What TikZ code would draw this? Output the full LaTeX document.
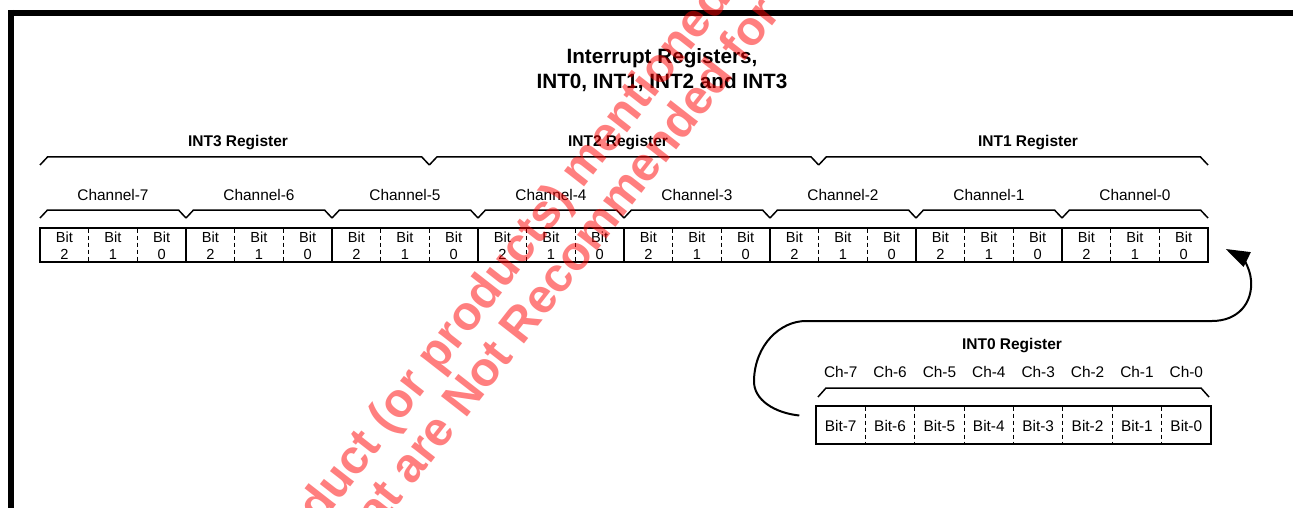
\documentclass[tikz,border=0pt]{standalone}
\usepackage{fontspec}
\setmainfont{Liberation Sans}
\usetikzlibrary{arrows.meta}
\begin{document}
\begin{tikzpicture}[x=1pt,y=-1pt,
  lbl/.style={inner sep=0pt, font=\fontsize{15.4}{18}\selectfont},
  reglbl/.style={inner sep=0pt, font=\bfseries\fontsize{15.5}{18}\selectfont},
  titlelbl/.style={inner sep=0pt, align=center, font=\bfseries\fontsize{20.7}{25}\selectfont},
  bitlbl/.style={inner sep=0pt, font=\fontsize{14.6}{16}\selectfont},
  brace/.style={line width=1.5pt, line join=miter},
  rowbox/.style={draw, line width=1.4pt, inner sep=0pt},
  solidsep/.style={line width=1.2pt},
  dashsep/.style={line width=1.1pt, dash pattern=on 4pt off 3pt},
  conn/.style={line width=2pt, -{Triangle[length=24pt,width=16pt]}},
  frameline/.style={line width=5.7pt},
  wmark/.style={inner sep=0pt, text=red, text opacity=0.5, font=\bfseries\fontsize{48}{58}\selectfont},
]
\useasboundingbox (0,0) rectangle (1293,508);
\begin{scope}
\clip (0,0) rectangle (1293,508);
% frame
\draw[frameline] (8,12.8) -- (1293,12.8);
\draw[frameline] (10.8,10) -- (10.8,508);

% title
\node[titlelbl] (title) at (662,70) {Interrupt Registers,\\INT0, INT1, INT2 and INT3};

% register labels and braces
\node[reglbl] (l3) at (238,143) {INT3 Register};
\node[reglbl] (l2) at (618,143) {INT2 Register};
\node[reglbl] (l1) at (1028,143) {INT1 Register};
\foreach \i in {0,1,2} {
  \pgfmathsetmacro\xa{40+389.333*\i}
  \pgfmathsetmacro\xb{40+389.333*(\i+1)}
  \draw[brace] (\xa,165) -- (\xa+7.5,157) -- (\xb-7.5,157) -- (\xb,165);
}

% channel labels and braces
\foreach \c [count=\i from 0] in {7,6,...,0} {
  \pgfmathsetmacro\cx{40+146*(\i+0.5)}
  \node[lbl] (ch\c) at (\cx,195) {Channel-\c};
  \pgfmathsetmacro\xa{40+146*\i}
  \pgfmathsetmacro\xb{40+146*(\i+1)}
  \draw[brace] (\xa,218) -- (\xa+7.5,210) -- (\xb-7.5,210) -- (\xb,218);
}

% bits row
\node[rowbox, minimum width=1168pt, minimum height=34pt] (row) at (624,245) {};
\foreach \k in {1,...,23} {
  \pgfmathsetmacro\dx{40+48.6667*\k}
  \pgfmathtruncatemacro\m{mod(\k,3)}
  \ifnum\m=0 \draw[solidsep] (\dx,228) -- (\dx,262); \else \draw[dashsep] (\dx,228.5) -- (\dx,262); \fi
}
\foreach \k in {0,...,23} {
  \pgfmathsetmacro\cx{40+48.6667*(\k+0.5)}
  \pgfmathtruncatemacro\b{2-mod(\k,3)}
  \node[bitlbl] (bt\k) at (\cx,237.5) {Bit};
  \node[bitlbl] (bd\k) at (\cx,254.5) {\b};
}

% INT0 register
\node[reglbl] (l0) at (1012,346) {INT0 Register};
\draw[brace] (818,397) -- (826,388) -- (1201,388) -- (1209,397);
\node[rowbox, minimum width=395pt, minimum height=38pt] (int0) at (1013.5,425) {};
\foreach \k in {1,...,7} {
  \pgfmathsetmacro\dx{816+49.375*\k}
  \draw[dashsep] (\dx,406.5) -- (\dx,444);
}
\foreach \c [count=\i from 0] in {7,6,...,0} {
  \pgfmathsetmacro\cx{816+49.375*(\i+0.5)}
  \node[lbl] (c0\c) at (\cx,372) {Ch-\c};
  \node[lbl] (b0\c) at (\cx,425.5) {Bit-\c};
}

% connector
\draw[conn] ([xshift=-16pt,yshift=9.5pt]int0.west)
  .. controls (775,413) and (753,400) .. (754,380)
  .. controls (755,345) and (780,321) .. (806,321)
  -- (1212,321)
  .. controls (1238,321) and (1253,303) .. (1251,280)
  .. controls (1250,266) and (1240,256) .. ([xshift=17pt,yshift=-4pt]row.east);

% watermark
\node[wmark, anchor=base west, rotate=52] (wm1) at (203.6,675.3) {This product (or products) mentioned};
\node[wmark, anchor=base west, rotate=52] (wm2) at (350.4,566.8) {that are Not Recommended for};
\end{scope}
\end{tikzpicture}
\end{document}
